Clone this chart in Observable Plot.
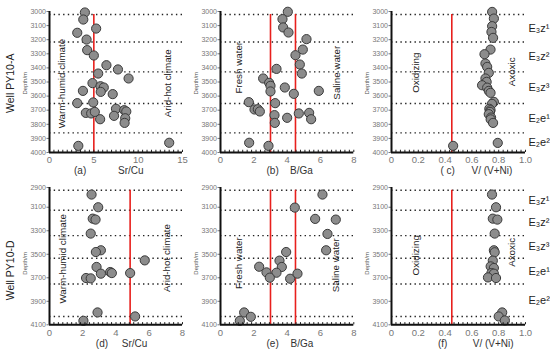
<!DOCTYPE html>
<html><head><meta charset="utf-8">
<script src="https://cdn.jsdelivr.net/npm/d3@7"></script>
<script src="https://cdn.jsdelivr.net/npm/@observablehq/plot@0.6"></script>
<style>
body{margin:0;background:#fff;}
#chart{position:relative;width:550px;height:356px;font-family:"Liberation Sans",Arial,sans-serif;}
#chart svg{position:absolute;overflow:visible;background:transparent;}
</style></head><body><div id="chart"></div>
<script>
// ---------- data ----------
// Well PY10-A
const aDepth = [3007,3057,3121,3151,3199,3274,3312,3381,3411,3440,3475,3508,3530,3539,3563,3570,3586,3650,3645,3690,3719,3723,3712,3764,3740,3700,3709,3757,3790,3953,3931];
const aSrCu  = [3.99,3.81,5.26,3.13,4.18,4.25,5.0,6.42,7.72,5.49,8.92,4.85,5.75,6.12,3.77,5.78,7.13,3.13,4.93,7.5,4.1,4.7,5.11,5.71,7.28,8.43,8.66,8.54,8.47,3.25,13.5];
const bDepth = [3002,3054,3113,3149,3196,3270,3310,3376,3407,3440,3475,3506,3527,3539,3567,3563,3584,3643,3650,3695,3693,3709,3735,3754,3790,3723,3719,3764,3931,3953];
const bBGa   = [4.04,3.72,3.76,4.08,5.16,4.94,4.5,4.76,3.36,4.88,2.56,2.92,3.0,3.86,3.0,5.9,4.4,1.7,3.28,2.04,2.24,2.36,3.24,4.0,3.26,4.7,5.32,5.44,1.72,2.88];
const cDepth = [3003,3050,3104,3145,3187,3270,3303,3369,3393,3435,3475,3499,3523,3540,3563,3577,3641,3655,3690,3700,3712,3728,3752,3765,3790,3932,3953];
const cVVNi  = [0.751,0.764,0.751,0.746,0.758,0.739,0.694,0.701,0.714,0.726,0.701,0.71,0.676,0.714,0.726,0.739,0.764,0.75,0.73,0.739,0.735,0.726,0.743,0.74,0.758,0.793,0.46];
// Well PY10-D
const dDepth = [2992,3100,3197,3205,3324,3466,3481,3552,3608,3665,3651,3660,3660,3702,3705,3995,4029,4066];
const dSrCu  = [2.53,2.93,2.6,2.77,2.48,3.09,2.79,5.73,2.83,3.09,3.65,3.75,4.85,2.2,2.48,2.89,5.15,2.04];
const eDepth = [2992,3103,3199,3205,3327,3466,3481,3554,3606,3608,3654,3657,3699,3708,3665,3995,4032,4066];
const eBGa   = [6.12,4.46,5.68,6.92,6.42,6.34,3.94,3.54,2.32,3.68,2.76,3.36,2.96,4.18,4.62,1.42,1.82,1.16];
const fDepth = [2992,3100,3197,3205,3324,3466,3483,3554,3603,3617,3660,3665,3697,3702,3995,4029,4063];
const fVVNi  = [0.75,0.78,0.756,0.79,0.77,0.764,0.77,0.756,0.74,0.764,0.746,0.764,0.72,0.78,0.826,0.80,0.846];

// thresholds (red lines)
const srCuLimitA = [5];
const srCuLimitD = [4.85];
const bGaLimits = [3, 4.5];
const vLimits = [0.45];

// formation boundaries and names
const topBoundaries = [3021,3216,3428,3652,3861];
const botBoundaries = [2955,3126,3341,3534,3753,4030];
const formations = ["E\u2083z\u00b9","E\u2083z\u00b2","E\u2083z\u00b3","E\u2082e\u00b9","E\u2082e\u00b2"];

// axes
const topDepthDomain = [3000, 4000];
const topDepthTicks = [3000,3100,3200,3300,3400,3500,3600,3700,3800,3900,4000];
const topDepthLabels = ["3000","3100","3200","3300","3400","3500","3600","3700","3800","3900","4000"];
const botDepthDomain = [2932, 4100];
const botDepthTicks = [2932,3100,3300,3500,3700,3900,4100];
const botDepthLabels = ["2900","3100","3300","3500","3700","3900","4100"];
const srCuTicksA = [0,5,10,15];
const srCuTicksD = [0,2,4,6,8];
const bGaTicks = [0,2,4,6,8];
const vTicks = [0,0.2,0.4,0.6,0.8,1.0];
const vTickLabels = ["0","0.2","0.4","0.6","0.8","1.0"];

const wells = ["Well PY10-A","Well PY10-D"];
const panelLetters = ["(a)","(b)","( c)","(d)","(e)","(f)"];
const panelVars = ["Sr/Cu","B/Ga","V/ (V+Ni)","Sr/Cu","B/Ga","V/ (V+Ni)"];

// ---------- drawing ----------
const FONT = '"Liberation Sans", Arial, sans-serif';
const chart = document.getElementById("chart");

function panel(o) {
  const [x0, x1] = o.xDomain;
  const [y0, y1] = o.yDomain;
  const minor = d3.range(31).map(i => x0 + (x1 - x0) * i / 30);
  const tickLabelMap = new Map(o.yTicks.map((t, i) => [t, o.yLabels[i]]));
  const xLabelMap = o.xLabels ? new Map(o.xTicks.map((t, i) => [t, o.xLabels[i]])) : null;
  const pts = o.depth.map((d, i) => ({depth: d, v: o.values[i]}));
  const marks = [
    Plot.ruleY(o.boundaries, {x1: x0, x2: x1, stroke: "#222", strokeWidth: 1.4, strokeDasharray: "1.4,3.3"}),
    Plot.ruleX(o.red, {y1: o.boundaries[0], y2: y1, stroke: "#e8201d", strokeWidth: 1.6}),
    Plot.dot(pts, {x: "v", y: "depth", r: 4.6, fill: "#8c8c8c", stroke: "#3a3a3a", strokeWidth: 1}),
    Plot.ruleX(minor, {y1: y1, y2: y1 - (y1 - y0) * 0.016, stroke: "#222", strokeWidth: 1}),
    Plot.axisY({ticks: o.yTicks, tickFormat: d => tickLabelMap.get(d), tickSize: 2.5, tickPadding: 1, fontSize: 7, color: "#777", label: null}),
    Plot.axisX({ticks: o.xTicks, tickFormat: xLabelMap ? (d => xLabelMap.get(d)) : (d => String(d)), tickSize: 0, tickPadding: 4, fontSize: 9.5, color: "#777", label: null}),
    Plot.ruleX([x0], {stroke: "#111", strokeWidth: 2}),
    Plot.ruleY([y1], {stroke: "#111", strokeWidth: 2}),
    Plot.text([panelLetters[o.idx]], {frameAnchor: "bottom-left", dx: o.capDx[0], dy: o.captionDy, fontSize: 10, fill: "#333"}),
    Plot.text([panelVars[o.idx]], {frameAnchor: "bottom-left", dx: o.capDx[1], dy: o.captionDy, fontSize: 10, fill: "#333"}),
    Plot.text(["Depth/m"], {x: x0, y: o.depthLabelY, dx: -24, rotate: -90, fontSize: 6, fill: "#555"}),
    Plot.text(o.notes, {x: "x", y: "y", text: "t", rotate: -90, fontSize: 9.8, fill: "#222"})
  ];
  if (o.well) {
    marks.push(Plot.text([o.well], {x: x0, y: o.wellY, dx: -39, rotate: -90, fontSize: 10.5, fill: "#222"}));
  }
  if (o.formationLabels) {
    const bnds = o.boundaries.concat(o.boundaries.length < 6 ? [y1] : []);
    const labs = o.formationLabels.map((t, i) => ({t, y: (bnds[i] + bnds[i + 1]) / 2}));
    marks.push(Plot.text(labs, {x: x1, y: "y", text: "t", dx: 3, textAnchor: "start", fontSize: 11, fill: "#222"}));
  }
  const svg = Plot.plot({
    width: o.width, height: o.height,
    marginLeft: 49, marginRight: o.width - 49 - o.frameW, marginTop: 11, marginBottom: o.height - 11 - o.frameH,
    style: {background: "transparent", fontFamily: FONT, overflow: "visible"},
    x: {domain: o.xDomain},
    y: {domain: o.yDomain, reverse: true},
    marks
  });
  svg.style.left = o.left + "px";
  svg.style.top = o.top + "px";
  chart.appendChild(svg);
}

const topCommon = {top: 0, height: 180, frameH: 141, yDomain: topDepthDomain, yTicks: topDepthTicks, yLabels: topDepthLabels, boundaries: topBoundaries, captionDy: 21, depthLabelY: 3509};
const botCommon = {top: 176, height: 180, frameH: 137.3, yDomain: botDepthDomain, yTicks: botDepthTicks, yLabels: botDepthLabels, boundaries: botBoundaries, captionDy: 21.7, depthLabelY: 3577};

panel({...topCommon, idx: 0, capDx: [24.5, 68.5], left: 0, width: 190, frameW: 133, xDomain: [0, 15], xTicks: srCuTicksA, depth: aDepth, values: aSrCu, red: srCuLimitA,
  well: wells[0], wellY: 3509,
  notes: [{x: 1.45, y: 3511, t: "Warm-humid climate"}, {x: 13.3, y: 3509, t: "Arid-hot climate"}]});
panel({...topCommon, idx: 1, capDx: [46, 69.5], left: 171, width: 190, frameW: 133.3, xDomain: [0, 8], xTicks: bGaTicks, depth: bDepth, values: bBGa, red: bGaLimits,
  notes: [{x: 1.1, y: 3399, t: "Fresh water"}, {x: 6.96, y: 3434, t: "Saline water"}]});
panel({...topCommon, idx: 2, capDx: [49, 80], left: 342, width: 208, frameW: 134, xDomain: [0, 1], xTicks: vTicks, xLabels: vTickLabels, depth: cDepth, values: cVVNi, red: vLimits,
  formationLabels: formations,
  notes: [{x: 0.18, y: 3434, t: "Oxidizing"}, {x: 0.895, y: 3428, t: "Axoxic"}]});

panel({...botCommon, idx: 3, capDx: [46.3, 72.3], left: 0, width: 190, frameW: 133, xDomain: [0, 8], xTicks: srCuTicksD, depth: dDepth, values: dSrCu, red: srCuLimitD,
  well: wells[1], wellY: 3637,
  notes: [{x: 0.78, y: 3539, t: "Warm-humid climate"}, {x: 7.05, y: 3532, t: "Arid-hot climate"}]});
panel({...botCommon, idx: 4, capDx: [46, 70], left: 171, width: 190, frameW: 133.3, xDomain: [0, 8], xTicks: bGaTicks, depth: eDepth, values: eBGa, red: bGaLimits,
  notes: [{x: 1.1, y: 3575, t: "Fresh water"}, {x: 6.92, y: 3594, t: "Saline water"}]});
panel({...botCommon, idx: 5, capDx: [46.5, 81.3], left: 342, width: 208, frameW: 134, xDomain: [0, 1], xTicks: vTicks, xLabels: vTickLabels, depth: fDepth, values: fVVNi, red: vLimits,
  formationLabels: formations,
  notes: [{x: 0.18, y: 3509, t: "Oxidizing"}, {x: 0.90, y: 3484, t: "Axoxic"}]});
</script></body></html>
